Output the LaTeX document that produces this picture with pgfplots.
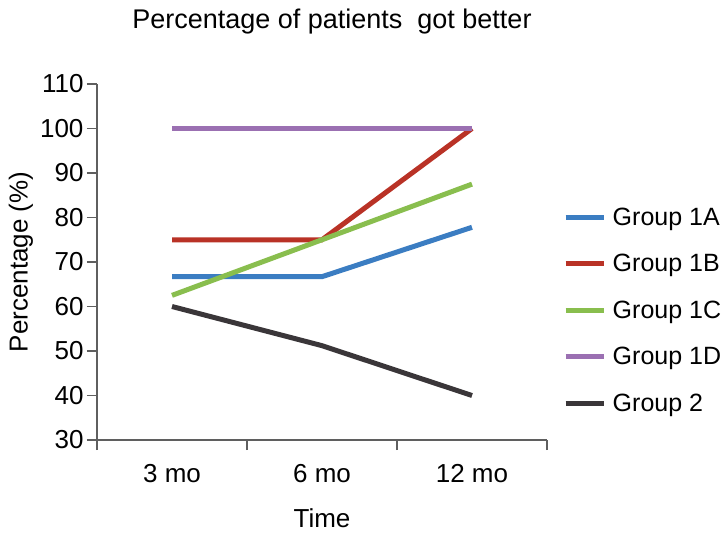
\documentclass[border=0pt]{standalone}
\usepackage{fontspec}
\setmainfont{Liberation Sans}
\usepackage{pgfplots}
\pgfplotsset{compat=1.18}
\definecolor{c1a}{RGB}{59,125,194}
\definecolor{c1b}{RGB}{185,50,38}
\definecolor{c1c}{RGB}{137,190,78}
\definecolor{c1d}{RGB}{155,112,178}
\definecolor{c2}{RGB}{58,54,57}
\definecolor{axgray}{RGB}{95,95,95}
\begin{document}
\begin{tikzpicture}
\begin{axis}[
  scale only axis, width=450pt, height=356pt,
  xmin=0, xmax=3, ymin=30, ymax=110,
  axis lines*=left,
  axis line style={axgray, line width=1.6pt},
  tick align=outside, major tick length=10pt,
  tick style={axgray, line width=1.6pt},
  xtick={0,1,2,3}, xticklabels={3 mo,6 mo,12 mo,},
  x tick label style={xshift=75pt, yshift=-11pt},
  ytick={30,40,...,110},
  /pgf/number format/assume math mode=true,
  tick label style={font=\fontsize{26}{30}\selectfont},
  title={Percentage of patients\ \ got better},
  title style={font=\fontsize{27}{31}\selectfont, at={(rel axis cs:0.522,1)}, anchor=center, yshift=56pt},
  xlabel={Time},
  xlabel style={font=\fontsize{26}{30}\selectfont, at={(rel axis cs:0.5,0)}, anchor=center, yshift=-78pt},
  ylabel={Percentage (\%)},
  ylabel style={font=\fontsize{26}{30}\selectfont, at={(rel axis cs:0,0.5)}, anchor=center, yshift=76pt},
  legend style={draw=none, fill=none, at={(rel axis cs:1.0356,0.692)}, anchor=north west,
    font=\fontsize{25}{29}\selectfont, inner sep=0pt},
  legend cell align=left,
  legend image code/.code={\draw[line width=5pt] (0pt,0pt) -- (38pt,0pt); \path[draw=none] (0pt,-23.25pt) rectangle (45pt,23.25pt);},
  every axis plot/.append style={line width=5pt},
  clip=false,
]
\addplot[c1a] coordinates {(0.5,66.7) (1.5,66.7) (2.5,77.8)};
\addlegendentry{Group 1A}
\addplot[c1b] coordinates {(0.5,75) (1.5,75) (2.5,100)};
\addlegendentry{Group 1B}
\addplot[c1c] coordinates {(0.5,62.5) (1.5,75) (2.5,87.5)};
\addlegendentry{Group 1C}
\addplot[c1d] coordinates {(0.5,100) (1.5,100) (2.5,100)};
\addlegendentry{Group 1D}
\addplot[c2] coordinates {(0.5,60) (1.5,51.2) (2.5,40)};
\addlegendentry{Group 2}
\end{axis}
\pgfresetboundingbox
\path[use as bounding box] (-97pt,-98pt) rectangle (630pt,440pt);
\end{tikzpicture}
\end{document}
